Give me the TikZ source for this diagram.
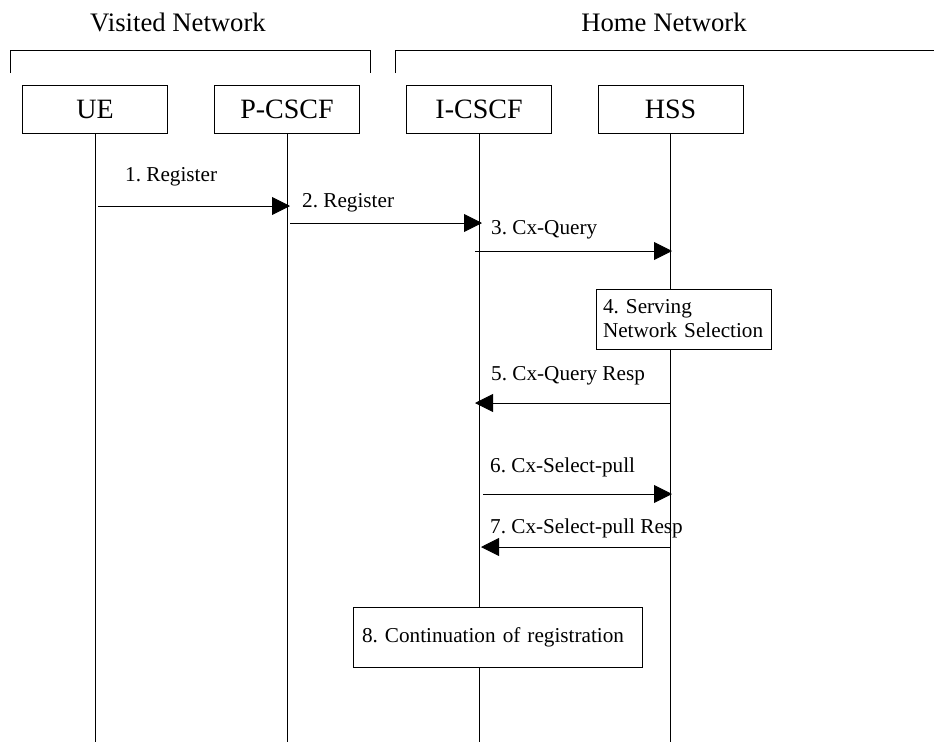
\documentclass[tikz,border=0pt]{standalone}
\usepackage{fontspec}
\setmainfont{Liberation Serif}
\usetikzlibrary{arrows.meta}
\frenchspacing
\begin{document}
\begin{tikzpicture}[x=1pt,y=-1pt,
  ent/.style={draw, line width=0.9pt, minimum width=145pt, minimum height=48pt, inner sep=0pt, font=\fontsize{28}{32}\selectfont},
  nettitle/.style={font=\fontsize{26.7}{30}\selectfont, inner sep=0pt},
  lbl/.style={font=\fontsize{21.2}{24}\selectfont\frenchspacing, inner sep=0pt, anchor=west},
  life/.style={line width=0.9pt},
  msg/.style={line width=0.9pt, -{Triangle[length=18pt,width=18pt]}},
  actbox/.style={draw, line width=0.9pt, fill=white, inner ysep=0pt, align=left, font=\fontsize{21.2}{24}\selectfont\frenchspacing}
]
\useasboundingbox (0,0) rectangle (934,742);

% network titles and brackets
\node[nettitle] (vtitle) at (178,22) {Visited Network};
\node[nettitle] (htitle) at (664,22) {Home Network};
\draw[line width=0.9pt] (10.5,73) |- (370,50) -- (370,73);
\draw[line width=0.9pt] (395,73) |- (934,50);

% entities
\node[ent] (ue)   at (95,109)  {UE};
\node[ent] (pcscf) at (287,109) {P-CSCF};
\node[ent] (icscf) at (479,109) {I-CSCF};
\node[ent] (hss)  at (670.5,109) {HSS};

% lifeline ends
\coordinate (ueEnd) at (95,742);
\coordinate (pEnd) at (287,742);
\coordinate (iEnd) at (479,742);
\coordinate (hEnd) at (670.5,742);

\draw[life] (ue.south) -- (ueEnd);
\draw[life] (pcscf.south) -- (pEnd);
\draw[life] (icscf.south) -- (iEnd);
\draw[life] (hss.south) -- (hEnd);

% message end points
\coordinate (m1a) at (98,206);   \coordinate (m1b) at (290,206);
\coordinate (m2a) at (290,223);  \coordinate (m2b) at (482,223);
\coordinate (m3a) at (475,251);  \coordinate (m3b) at (672,251);
\coordinate (m5a) at (670.5,403); \coordinate (m5b) at (475,403);
\coordinate (m6a) at (483,494);  \coordinate (m6b) at (672,494);
\coordinate (m7a) at (670.5,547); \coordinate (m7b) at (481,547);

\draw[msg] (m1a) -- (m1b);
\draw[msg] (m2a) -- (m2b);
\draw[msg] (m3a) -- (m3b);
\draw[msg] (m5a) -- (m5b);
\draw[msg] (m6a) -- (m6b);
\draw[msg] (m7a) -- (m7b);

% labels
\node[lbl] (l1) at (125,177) {1. Register};
\node[lbl] (l2) at (302,203) {2. Register};
\node[lbl] (l3) at (491,230) {3. Cx-Query};
\node[lbl] (l5) at (491,376) {5. Cx-Query Resp};
\node[lbl] (l6) at (490,467) {6. Cx-Select-pull};
\node[lbl] (l7) at (490,528) {7. Cx-Select-pull Resp};

% action boxes
\node[actbox, minimum width=175pt, minimum height=60pt, inner xsep=7pt, text width=161pt] (b4) at (683.5,319) {4. Serving\\Network Selection};
\node[actbox, minimum width=289pt, minimum height=60pt, inner xsep=9pt, text width=271pt] (b8) at (497.5,637) {8. Continuation of registration};
\end{tikzpicture}
\end{document}
